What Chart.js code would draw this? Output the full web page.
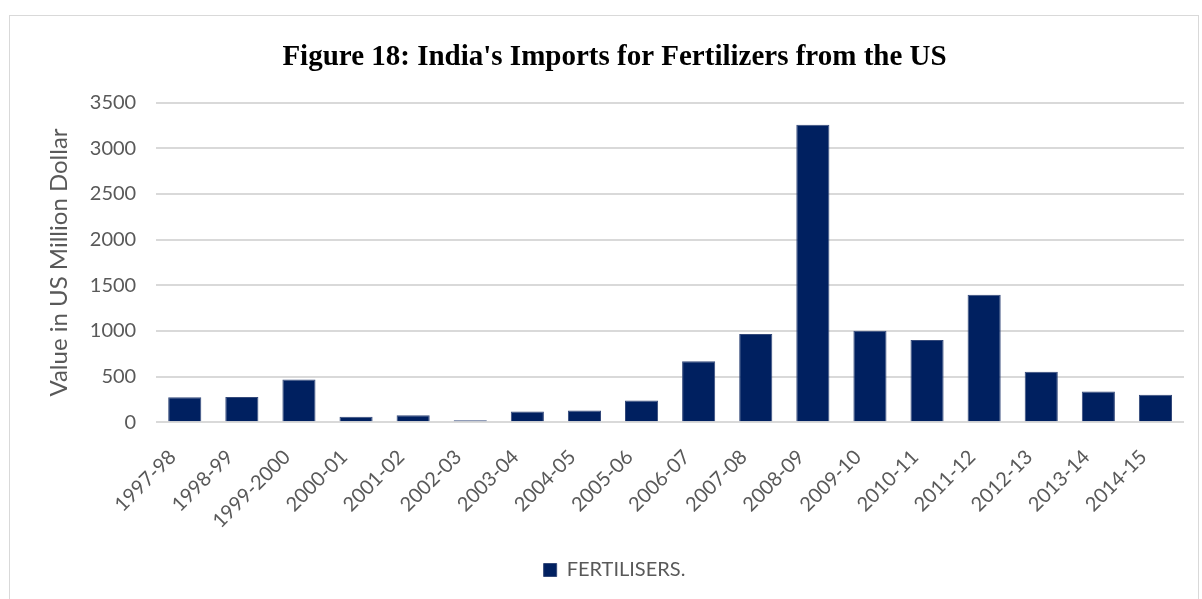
<!DOCTYPE html>
<html>
<head>
<meta charset="utf-8">
<script src="https://cdn.jsdelivr.net/npm/chart.js@4.4.0/dist/chart.umd.min.js"></script>
<style>
  html, body { margin: 0; padding: 0; background: #fff; }
  #wrap { position: relative; width: 1202px; height: 599px; }
  #frame { position: absolute; left: 9px; top: 15px; width: 1190px; height: 600px; border: 1px solid #d9d9d9; box-sizing: border-box; }
  canvas { position: absolute; left: 0; top: 0; }
</style>
</head>
<body>
<div id="wrap">
  <div id="frame"></div>
  <canvas id="c" width="1202" height="599"></canvas>
</div>
<script>
const categories = ["1997-98","1998-99","1999-2000","2000-01","2001-02","2002-03","2003-04","2004-05","2005-06","2006-07","2007-08","2008-09","2009-10","2010-11","2011-12","2012-13","2013-14","2014-15"];
const fertilisers = [272, 276, 468, 60, 75, 20, 116, 127, 238, 667, 967, 3260, 1003, 900, 1395, 552, 337, 300];
const yTicks = [0, 500, 1000, 1500, 2000, 2500, 3000, 3500];

const gray = '#595959';
const font = 'Lato, "Open Sans", sans-serif';

new Chart(document.getElementById('c'), {
  type: 'bar',
  data: {
    labels: categories,
    datasets: [{
      label: 'FERTILISERS.',
      data: fertilisers,
      backgroundColor: '#002060',
      borderColor: '#34497a',
      borderWidth: 1,
      barPercentage: 0.58,
      categoryPercentage: 1.0
    }]
  },
  options: {
    responsive: false,
    animation: false,
    devicePixelRatio: 1,
    layout: { padding: { left: 45, right: 18, top: 20, bottom: 9 } },
    plugins: {
      title: {
        display: true,
        text: "Figure 18: India's Imports for Fertilizers from the US",
        color: '#000',
        font: { family: '"Liberation Serif", "Times New Roman", serif', size: 29, weight: 'bold' },
        padding: { top: 20, bottom: 28 }
      },
      legend: {
        position: 'bottom',
        labels: {
          color: gray,
          font: { family: font, size: 20 },
          boxWidth: 13,
          boxHeight: 13,
          padding: 10
        }
      },
      tooltip: { enabled: false }
    },
    scales: {
      x: {
        grid: { display: false },
        border: { display: false },
        afterFit: (axis) => { axis.height += 2; },
        ticks: {
          color: gray,
          font: { family: font, size: 20 },
          maxRotation: 45,
          minRotation: 45,
          autoSkip: false,
          padding: 15,
          labelOffset: -12
        }
      },
      y: {
        min: 0,
        max: 3500,
        afterBuildTicks: (axis) => { axis.ticks = yTicks.map(v => ({ value: v })); },
        grid: { color: '#d9d9d9', lineWidth: 2, drawTicks: false },
        border: { display: false },
        ticks: { color: gray, font: { family: font, size: 20 }, padding: 20, callback: (v) => String(v) },
        title: {
          display: true,
          text: 'Value in US Million Dollar',
          color: gray,
          font: { family: font, size: 24 },
          padding: { top: 0, bottom: -4 }
        }
      }
    }
  }
});
</script>
</body>
</html>
